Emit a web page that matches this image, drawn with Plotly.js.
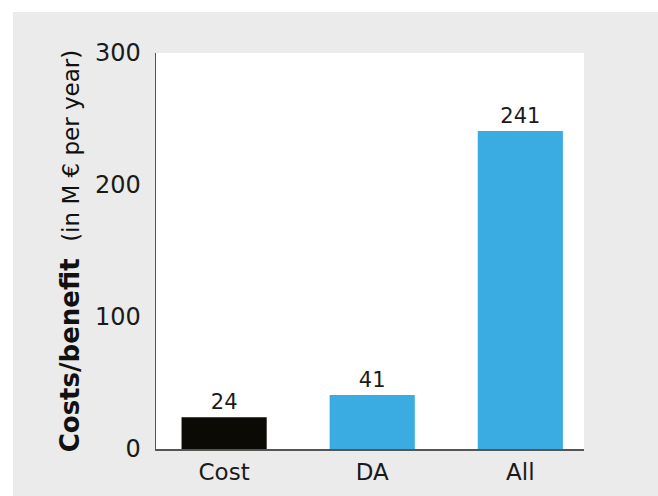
<!DOCTYPE html>
<html>
<head>
<meta charset="utf-8">
<script src="https://cdn.plot.ly/plotly-3.0.1.min.js"></script>
<style>
html,body{margin:0;padding:0;background:#ffffff;}
#chart{position:absolute;left:13px;top:12px;width:645px;height:484px;}
</style>
</head>
<body>
<div id="chart"></div>
<script>
const categories = ["Cost", "DA", "All"];
const values = [24, 41, 241];
const barColors = ["#0c0a05", "#3aace2", "#3aace2"];
const yTickValues = [0, 100, 200, 300];
const yTickLabels = ["0", "100", "200", "300"];

const trace = {
  type: "bar",
  x: categories,
  y: values,
  width: 0.575,
  marker: {color: barColors, line: {width: 0}},
  text: values.map(String),
  textposition: "outside",
  cliponaxis: false,
  textfont: {family: "DejaVu Sans", size: 21, color: "#1a1a1a"},
  hoverinfo: "none"
};

const layout = {
  width: 645,
  height: 484,
  paper_bgcolor: "#ebebeb",
  plot_bgcolor: "#ffffff",
  margin: {l: 143, r: 74, t: 41, b: 47, pad: 0},
  showlegend: false,
  font: {family: "DejaVu Sans", color: "#1a1a1a"},
  xaxis: {
    type: "category",
    range: [-0.46, 2.43],
    showline: true,
    linecolor: "#555555",
    linewidth: 1.5,
    ticks: "",
    ticklabelstandoff: 2,
    tickfont: {family: "DejaVu Sans", size: 23, color: "#1a1a1a"},
    showgrid: false,
    zeroline: false,
    fixedrange: true
  },
  yaxis: {
    range: [0, 300],
    tickvals: yTickValues,
    ticktext: yTickLabels,
    showline: true,
    linecolor: "#555555",
    linewidth: 1.5,
    ticks: "",
    ticklabelstandoff: 9,
    tickfont: {family: "DejaVu Sans", size: 24, color: "#1a1a1a"},
    showgrid: false,
    zeroline: false,
    fixedrange: true,
    title: {
      text: "<b>Costs/benefit</b>  <span style='font-size:23px;font-weight:normal'>(in M € per year)</span>",
      font: {family: "DejaVu Sans", size: 26, color: "#111111"},
      standoff: 8
    },
    automargin: false
  }
};

Plotly.newPlot("chart", [trace], layout, {displayModeBar: false, staticPlot: true});
</script>
</body>
</html>
